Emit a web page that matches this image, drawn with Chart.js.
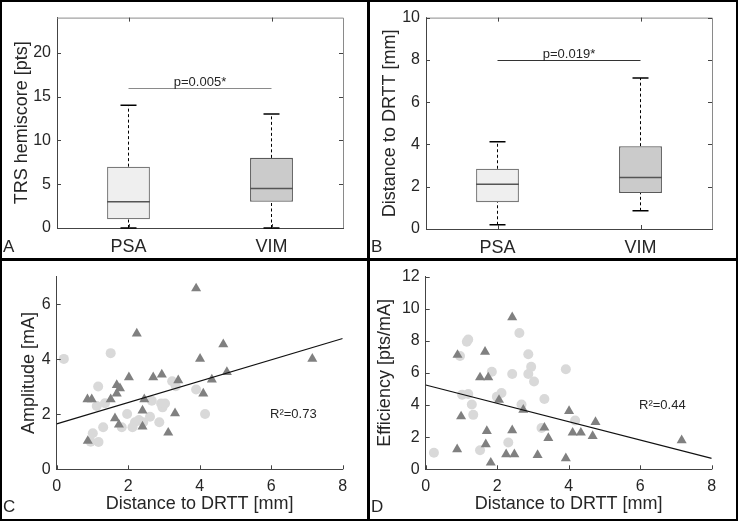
<!DOCTYPE html>
<html>
<head>
<meta charset="utf-8">
<script src="https://cdn.jsdelivr.net/npm/chart.js@4.4.1/dist/chart.umd.min.js"></script>
<style>
  html, body { margin: 0; padding: 0; background: #000; }
  #fig { position: relative; width: 738px; height: 521px; background: #000; }
  canvas { position: absolute; background: #fff; }
</style>
</head>
<body>
<div id="fig">
  <canvas id="panelA" width="365" height="256" style="left:2px;top:2px"></canvas>
  <canvas id="panelB" width="366" height="256" style="left:370px;top:2px"></canvas>
  <canvas id="panelC" width="365" height="258" style="left:2px;top:261px"></canvas>
  <canvas id="panelD" width="366" height="258" style="left:370px;top:261px"></canvas>
</div>
<script>
const TEXT_COLOR = '#262626';
const AXIS_COLOR = '#444';
const PSA_COLOR = '#d9d9d9';
const VIM_COLOR = '#808080';

Chart.defaults.font.family = "'Liberation Sans', Arial, sans-serif";
Chart.defaults.color = TEXT_COLOR;
Chart.defaults.animation = false;

const groups = ['PSA', 'VIM'];

// box plot stats: [lower whisker, q1, median, q3, upper whisker]
const trsPSA = [0, 1, 3, 7, 14];
const trsVIM = [0, 3, 4.5, 8, 13];
const trsTicks = [0, 5, 10, 15, 20];

const distPSA = [0.2, 1.27, 2.12, 2.85, 4.13];
const distVIM = [0.86, 1.7, 2.44, 3.92, 7.14];
const distTicks = [0, 2, 4, 6, 8, 10];

// C: amplitude vs distance to DRTT
const ampPsaX = [0.20, 1.51, 1.16, 3.23, 3.33, 1.12, 1.35, 1.97, 2.19, 2.12, 2.30, 2.61, 2.42, 1.82, 1.30, 1.01, 1.17, 2.87, 2.92, 2.96, 3.03, 2.66, 3.90, 4.15, 0.95];
const ampPsaY = [4.01, 4.22, 3.01, 3.20, 3.02, 2.30, 2.40, 2.01, 1.71, 1.53, 1.79, 1.91, 1.71, 1.53, 1.53, 1.31, 0.99, 1.71, 2.39, 2.25, 2.39, 2.49, 2.90, 2.01, 1.00];
const ampVimX = [3.90, 2.24, 4.66, 4.01, 7.15, 4.76, 4.34, 3.40, 4.10, 2.94, 2.70, 2.02, 1.68, 1.77, 1.68, 1.51, 0.86, 0.98, 2.45, 2.40, 3.31, 1.63, 1.74, 2.40, 3.12, 0.87];
const ampVimY = [6.57, 4.93, 4.54, 4.01, 4.01, 3.53, 3.26, 3.23, 2.75, 3.44, 3.34, 3.34, 3.06, 2.94, 2.75, 2.54, 2.54, 2.54, 2.54, 2.13, 2.03, 1.85, 1.62, 1.55, 1.33, 1.03];

// D: efficiency vs distance to DRTT
const effPsaX = [2.62, 1.15, 1.19, 0.96, 2.87, 2.95, 2.87, 2.42, 1.85, 3.03, 3.32, 1.02, 1.19, 2.12, 1.99, 1.29, 1.33, 2.68, 3.24, 2.31, 1.52, 0.23, 3.92, 4.18];
const effPsaY = [8.49, 7.94, 8.08, 7.06, 7.16, 6.38, 5.93, 5.93, 6.07, 5.47, 4.38, 4.65, 4.69, 4.75, 4.52, 4.03, 3.39, 4.03, 2.57, 1.67, 1.19, 1.03, 6.23, 3.04];
const effVimX = [2.42, 1.66, 0.89, 1.52, 1.75, 2.05, 2.73, 0.99, 1.71, 2.42, 3.32, 3.43, 1.68, 0.88, 2.25, 2.48, 3.13, 1.82, 4.01, 4.75, 4.11, 4.34, 4.67, 7.16, 3.92];
const effVimY = [9.46, 7.32, 7.12, 5.72, 5.72, 4.32, 3.70, 3.29, 2.38, 2.43, 2.59, 1.95, 1.56, 1.25, 0.93, 0.93, 0.88, 0.41, 3.62, 2.94, 2.28, 2.28, 2.07, 1.81, 0.68];

const distAxisTicks = [0, 2, 4, 6, 8];
const ampTicks = [0, 2, 4, 6];
const effTicks = [0, 2, 4, 6, 8, 10, 12];

// regression lines
const fitX = [0, 8];
const ampFit = [1.65, 4.75];
const effFit = [5.25, 0.68];

function toPoints(xs, ys) {
    return xs.map((x, i) => ({x: x, y: ys[i]}));
}

// inward ticks, box outline, whiskers, p-value bar, notes and panel letter
const panelExtras = {
    id: 'panelExtras',
    afterDatasetsDraw(chart, args, opts) {
        const ctx = chart.ctx;
        const xs = chart.scales.x;
        const ys = chart.scales.y;
        if (!opts.stats) return;
        const meta = chart.getDatasetMeta(0);
        ctx.save();
        opts.stats.forEach((s, i) => {
            const cx = xs.getPixelForValue(i);
            const bar = meta.data[i];
            ctx.strokeStyle = '#000';
            ctx.lineWidth = 1;
            ctx.setLineDash([3, 2.5]);
            ctx.beginPath();
            ctx.moveTo(cx, ys.getPixelForValue(s[0]));
            ctx.lineTo(cx, ys.getPixelForValue(s[1]));
            ctx.moveTo(cx, ys.getPixelForValue(s[3]));
            ctx.lineTo(cx, ys.getPixelForValue(s[4]));
            ctx.stroke();
            ctx.setLineDash([]);
            ctx.lineWidth = 1.5;
            ctx.beginPath();
            [s[0], s[4]].forEach(v => {
                const py = ys.getPixelForValue(v);
                ctx.moveTo(cx - 8, py);
                ctx.lineTo(cx + 8, py);
            });
            ctx.stroke();
            ctx.strokeStyle = '#555';
            ctx.beginPath();
            const my = ys.getPixelForValue(s[2]);
            ctx.moveTo(cx - bar.width / 2, my);
            ctx.lineTo(cx + bar.width / 2, my);
            ctx.stroke();
        });
        ctx.restore();
    },
    afterDraw(chart, args, opts) {
        const ctx = chart.ctx;
        const area = chart.chartArea;
        const xs = chart.scales.x;
        const ys = chart.scales.y;
        ctx.save();
        // box
        if (opts.box) {
            ctx.strokeStyle = '#8a8a8a';
            ctx.lineWidth = 1;
            ctx.beginPath();
            ctx.moveTo(area.left, area.top + 0.5);
            ctx.lineTo(area.right + 0.5, area.top + 0.5);
            ctx.lineTo(area.right + 0.5, area.bottom);
            ctx.stroke();
        }
        // inward ticks
        ctx.strokeStyle = AXIS_COLOR;
        ctx.lineWidth = 1;
        ctx.beginPath();
        xs.ticks.forEach((t, i) => {
            const px = Math.round(xs.getPixelForTick(i)) + 0.5;
            ctx.moveTo(px, area.bottom);
            ctx.lineTo(px, area.bottom - 4);
            if (opts.box) {
                ctx.moveTo(px, area.top);
                ctx.lineTo(px, area.top + 4);
            }
        });
        ys.ticks.forEach((t, i) => {
            const py = Math.round(ys.getPixelForTick(i)) + 0.5;
            ctx.moveTo(area.left, py);
            ctx.lineTo(area.left + 4, py);
            if (opts.box) {
                ctx.moveTo(area.right, py);
                ctx.lineTo(area.right - 4, py);
            }
        });
        ctx.stroke();
        // p-value bar
        if (opts.pValue) {
            const py = Math.round(ys.getPixelForValue(opts.pValue.y)) + 0.5;
            const x0 = xs.getPixelForValue(0);
            const x1 = xs.getPixelForValue(1);
            ctx.strokeStyle = opts.pValue.color;
            ctx.beginPath();
            ctx.moveTo(x0, py);
            ctx.lineTo(x1, py);
            ctx.stroke();
            ctx.fillStyle = TEXT_COLOR;
            ctx.font = "13px 'Liberation Sans', Arial, sans-serif";
            ctx.textAlign = 'center';
            ctx.textBaseline = 'alphabetic';
            ctx.fillText(opts.pValue.text, (x0 + x1) / 2, py - 3);
        }
        // notes
        (opts.notes || []).forEach(n => {
            ctx.fillStyle = TEXT_COLOR;
            ctx.font = "13px 'Liberation Sans', Arial, sans-serif";
            ctx.textAlign = 'center';
            ctx.textBaseline = 'middle';
            ctx.fillText(n.text, xs.getPixelForValue(n.x), ys.getPixelForValue(n.y));
        });
        // panel letter
        ctx.fillStyle = TEXT_COLOR;
        ctx.font = "17px 'Liberation Sans', Arial, sans-serif";
        ctx.textAlign = 'left';
        ctx.textBaseline = 'alphabetic';
        ctx.fillText(opts.letter, opts.letterX, opts.letterY);
        ctx.restore();
    }
};

Chart.register(panelExtras);

function yAxis(min, max, ticks, title, width, titlePad) {
    return {
        type: 'linear',
        min: min,
        max: max,
        afterBuildTicks: s => { s.ticks = ticks.map(v => ({value: v})); },
        afterFit: s => { s.width = width; },
        grid: {display: false, drawTicks: false},
        border: {display: true, color: AXIS_COLOR, width: 1},
        ticks: {font: {size: 16}, padding: 6, color: TEXT_COLOR},
        title: {display: true, text: title, font: {size: 18}, color: TEXT_COLOR, padding: {top: titlePad, bottom: 0}}
    };
}

function boxConfig(stats, ticks, yMax, title, pText, pY, pColor, letter, dims) {
    return {
        type: 'bar',
        data: {
            labels: groups,
            datasets: [{
                data: stats.map(s => [s[1], s[3]]),
                backgroundColor: ['#efefef', '#cbcbcb'],
                borderColor: ['#7a7a7a', '#5a5a5a'],
                borderWidth: 1.3,
                borderSkipped: false,
                barPercentage: 0.3,
                categoryPercentage: 1
            }]
        },
        options: {
            responsive: false,
            layout: {padding: {left: 0, right: dims.right, top: dims.top, bottom: 0}},
            plugins: {
                legend: {display: false},
                tooltip: {enabled: false},
                panelExtras: {
                    stats: stats,
                    box: true,
                    pValue: {y: pY, text: pText, color: pColor},
                    letter: letter, letterX: 1, letterY: 250
                }
            },
            scales: {
                x: {
                    afterFit: s => { s.height = dims.bottom; },
                    grid: {display: false, drawTicks: false},
                    border: {display: true, color: AXIS_COLOR, width: 1},
                    ticks: {font: {size: 18}, padding: 8, color: TEXT_COLOR}
                },
                y: yAxis(0, yMax, ticks, title, dims.left, 9)
            }
        }
    };
}

function scatterConfig(psa, vim, fit, yMax, ticks, title, note, letter, dims, titlePad) {
    return {
        type: 'scatter',
        data: {
            datasets: [
                {
                    type: 'line',
                    data: toPoints(fitX, fit),
                    borderColor: '#111',
                    borderWidth: 1.2,
                    pointRadius: 0,
                    showLine: true,
                    order: 0
                },
                {
                    data: vim,
                    pointStyle: 'triangle',
                    pointRadius: 5.8,
                    backgroundColor: VIM_COLOR,
                    borderColor: VIM_COLOR,
                    borderWidth: 0,
                    order: 1
                },
                {
                    data: psa,
                    pointStyle: 'circle',
                    pointRadius: 5,
                    backgroundColor: PSA_COLOR,
                    borderColor: PSA_COLOR,
                    borderWidth: 0,
                    order: 2
                }
            ]
        },
        options: {
            responsive: false,
            layout: {padding: {left: 0, right: dims.right, top: dims.top, bottom: 0}},
            plugins: {
                legend: {display: false},
                tooltip: {enabled: false},
                panelExtras: {
                    box: false,
                    notes: [note],
                    letter: letter, letterX: 1, letterY: 251
                }
            },
            scales: {
                x: {
                    type: 'linear',
                    min: 0,
                    max: 8,
                    afterBuildTicks: s => { s.ticks = distAxisTicks.map(v => ({value: v})); },
                    afterFit: s => { s.height = dims.bottom; },
                    grid: {display: false, drawTicks: false},
                    border: {display: true, color: AXIS_COLOR, width: 1},
                    ticks: {font: {size: 16}, padding: 8, color: TEXT_COLOR},
                    title: {display: true, text: 'Distance to DRTT [mm]', font: {size: 18}, color: TEXT_COLOR, padding: {top: 0, bottom: 4}}
                },
                y: yAxis(0, yMax, ticks, title, dims.left, titlePad)
            }
        }
    };
}

new Chart(
    document.getElementById('panelA'),
    boxConfig([trsPSA, trsVIM], trsTicks, 24, 'TRS hemiscore [pts]', 'p=0.005*', 16, '#8a8a8a', 'A',
        {left: 55, right: 24, top: 13, bottom: 30})
);

new Chart(
    document.getElementById('panelB'),
    boxConfig([distPSA, distVIM], distTicks, 10, 'Distance to DRTT [mm]', 'p=0.019*', 8, '#333', 'B',
        {left: 56, right: 24, top: 14.7, bottom: 29})
);

new Chart(
    document.getElementById('panelC'),
    scatterConfig(toPoints(ampPsaX, ampPsaY), toPoints(ampVimX, ampVimY), ampFit, 7, ampTicks,
        'Amplitude [mA]', {x: 6.62, y: 1.98, text: 'R²=0.73'}, 'C',
        {left: 54.7, right: 24.3, top: 12.3, bottom: 49.7}, 16)
);

new Chart(
    document.getElementById('panelD'),
    scatterConfig(toPoints(effPsaX, effPsaY), toPoints(effVimX, effVimY), effFit, 12, effTicks,
        'Efficiency [pts/mA]', {x: 6.62, y: 3.97, text: 'R²=0.44'}, 'D',
        {left: 55.7, right: 24.3, top: 14, bottom: 49.7}, 4)
);
</script>
</body>
</html>
